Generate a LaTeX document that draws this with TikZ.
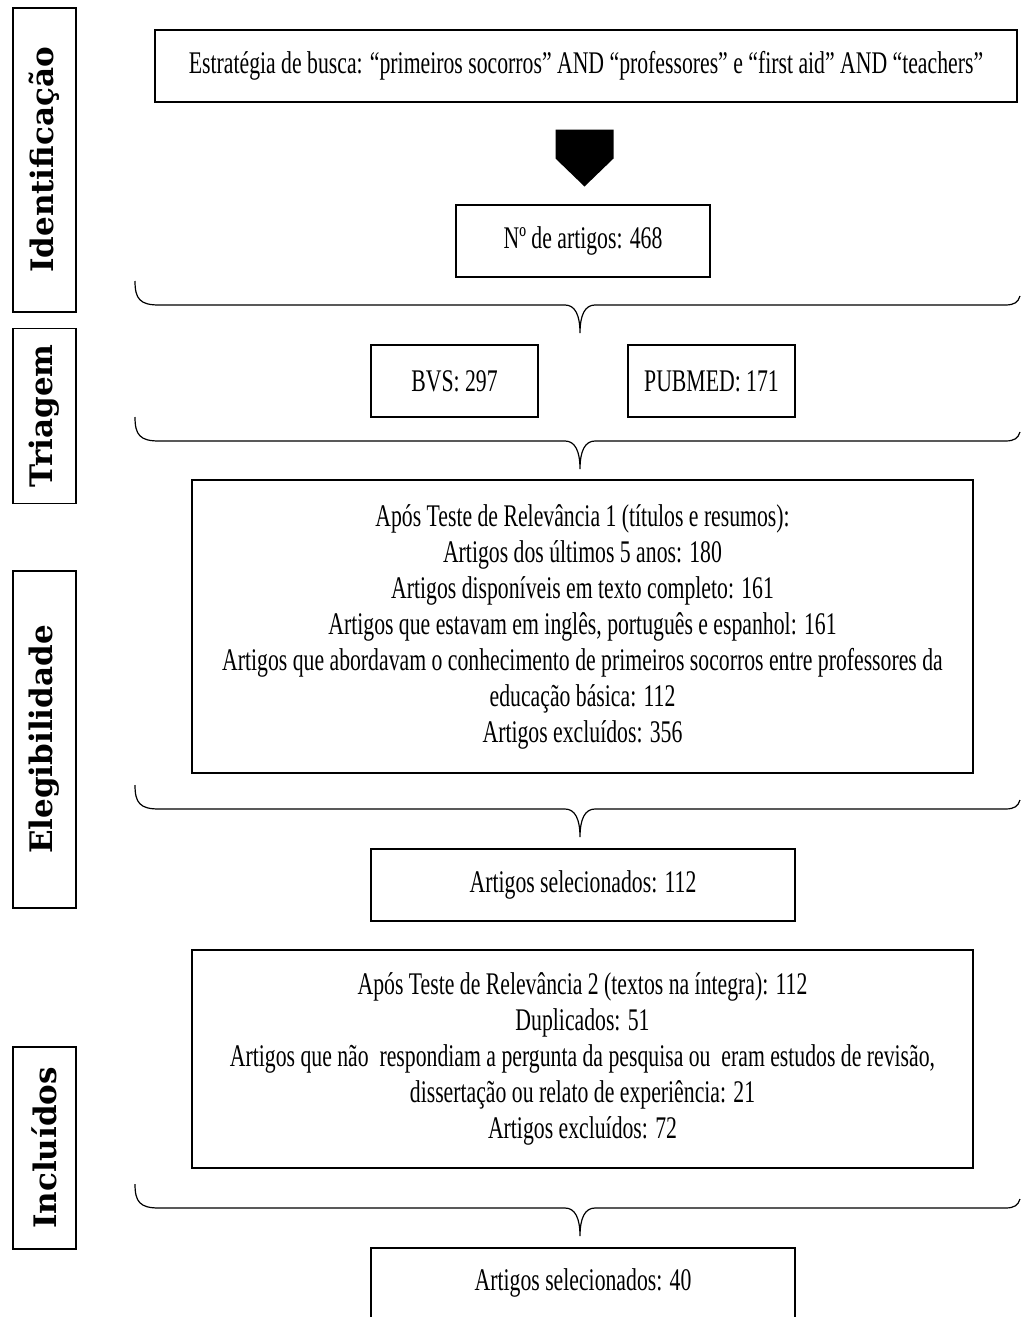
\documentclass[tikz,border=0pt]{standalone}
\usepackage{fontspec}
\setmainfont[FakeStretch=0.69]{Liberation Serif}
\newfontfamily\labfont{DejaVu Serif}
\usetikzlibrary{calc}
\tikzset{
  box/.style={draw=black, line width=1.3pt, align=center, inner sep=0pt,
    font=\fontsize{31.5}{36}\selectfont},
  stage/.style={draw=black, line width=1.3pt, rotate=90, inner sep=0pt,
    minimum height=63pt, font=\labfont\bfseries\fontsize{31}{36}\selectfont},
  bracepath/.style={draw=black, line width=1.2pt},
  mybrace/.pic={
    \draw[bracepath] (-445,-24) .. controls (-445,-6) and (-440,0) .. (-421,0)
      -- (-15,0) .. controls (-5,0) and (0,10) .. (0,28)
      .. controls (0,10) and (5,0) .. (15,0) -- (425,0)
      .. controls (435,0) and (438,-3) .. (440,-9);
  }
}
\begin{document}
\begin{tikzpicture}[x=1pt,y=-1pt]
\useasboundingbox (0,0) rectangle (1020,1317);
% stage labels
\node[stage, minimum width=304pt] (sid) at (44.5,160) {Identificação};
\node[stage, minimum width=175pt] (str) at (44.5,416) {Triagem};
\node[stage, minimum width=337pt] (sel) at (44.5,739.5) {Elegibilidade};
\node[stage, minimum width=202pt] (sin) at (44.5,1148) {Incluídos};
% boxes
\node[box, minimum width=862pt, minimum height=72pt] (top) at (586,66)
  {Estratégia de busca: “primeiros socorros” AND “professores” e “first aid” AND “teachers”};
\node[box, minimum width=254pt, minimum height=72pt] (nart) at (583,241) {Nº de artigos: 468};
\node[box, minimum width=167pt, minimum height=72pt] (bvs) at (454.5,381) {BVS: 297};
\node[box, minimum width=167pt, minimum height=72pt] (pub) at (711.5,381) {PUBMED: 171};
\node[box, minimum width=781pt, minimum height=293pt] (big1) at (582.5,626.5)
  {Após Teste de Relevância 1 (títulos e resumos):\\
   Artigos dos últimos 5 anos: 180\\
   Artigos disponíveis em texto completo: 161\\
   Artigos que estavam em inglês, português e espanhol: 161\\
   Artigos que abordavam o conhecimento de primeiros socorros entre professores da\\
   educação básica: 112\\
   Artigos excluídos: 356};
\node[box, minimum width=424pt, minimum height=72pt] (sel1) at (583,885) {Artigos selecionados: 112};
\node[box, minimum width=781pt, minimum height=218pt] (big2) at (582.5,1059)
  {Após Teste de Relevância 2 (textos na íntegra): 112\\
   Duplicados: 51\\
   Artigos que não\ \ respondiam a pergunta da pesquisa ou\ \ eram estudos de revisão,\\
   dissertação ou relato de experiência: 21\\
   Artigos excluídos: 72};
\node[box, minimum width=424pt, minimum height=100pt] (sel2) at (583,1298) {};
\node[font=\fontsize{31.5}{36}\selectfont, inner sep=0pt] (sel2t) at (583,1283) {Artigos selecionados: 40};
% block arrow
\coordinate (ar) at ($(top.south)!0.5!(nart.north)$);
\fill[black] ($(ar)+(-29,-24)$) -- ($(ar)+(29,-24)$) -- ($(ar)+(29,5)$)
  -- ($(ar)+(0,33)$) -- ($(ar)+(-29,5)$) -- cycle;
% braces
\pic at (580,305) {mybrace};
\pic at (580,441) {mybrace};
\pic at (580,809) {mybrace};
\pic at (580,1208) {mybrace};
\end{tikzpicture}
\end{document}
